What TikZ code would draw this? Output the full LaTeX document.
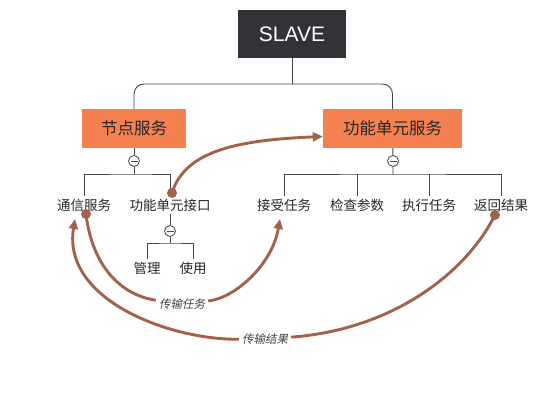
\documentclass[tikz,border=0pt]{standalone}
\usepackage{fontspec}
\setmainfont{Noto Sans CJK SC}
\newfontfamily\slantcjk[FakeSlant=0.2]{Noto Sans CJK SC}
\newfontfamily\latinsans{Liberation Sans}
\usepackage{xcolor}
\usepackage{tikz}
\usetikzlibrary{arrows.meta,positioning}
\definecolor{boxorange}{HTML}{F58150}
\definecolor{boxdark}{HTML}{333337}
\definecolor{linkbrown}{HTML}{A2614D}
\definecolor{treegray}{HTML}{444444}

\begin{document}
\begin{tikzpicture}[x=1pt,y=-1pt,
  topic/.style={fill=boxorange,text=black!85,font=\fontsize{16.5}{18}\selectfont,minimum height=39pt,inner sep=0pt},
  leaf/.style={font=\fontsize{13.5}{15}\selectfont,text=black!85,inner sep=3pt},
  fold/.style={circle,draw=treegray,fill=white,line width=0.8pt,minimum size=11pt,inner sep=0pt},
  tree/.style={draw=treegray,line width=0.9pt},
  link/.style={draw=linkbrown,line width=2.9pt,-{Triangle[length=10pt,width=9pt]}},
  linklabel/.style={font=\slantcjk\fontsize{11.5}{13}\selectfont,text=black!75,inner sep=3pt}]
  \useasboundingbox (0,0) rectangle (544,403);
  % main topics
  \node[fill=boxdark,text=white,font=\latinsans\fontsize{21}{24}\selectfont,minimum width=108pt,minimum height=48pt,inner sep=0pt] (slave) at (292,34) {SLAVE};
  \node[topic,minimum width=104pt] (jdfw) at (134,128.5) {节点服务};
  \node[topic,minimum width=139pt] (gnfw) at (392.5,128.5) {功能单元服务};
  \coordinate (hub) at (292,84);
  \draw[tree] (slave) -- (hub);
  \draw[tree,rounded corners=10pt] (jdfw.north) |- (hub) -| (gnfw.north);
  % node service branch
  \node[fold] (f1) at (134,161) {};
  \coordinate (b1) at (134,174);
  \node[leaf] (txfw) at (84,205) {通信服务};
  \node[leaf] (gnjk) at (170,205) {功能单元接口};
  \draw[tree] (jdfw) -- (f1) -- (b1);
  \draw[tree] (txfw.north) |- (b1) -| (gnjk.north);
  \node[fold] (f3) at (170,231) {};
  \coordinate (b3) at (170,243);
  \node[leaf] (gl) at (147,268) {管理};
  \node[leaf] (sy) at (193,268) {使用};
  \draw[tree] (gnjk) -- (f3) -- (b3);
  \draw[tree] (gl.north) |- (b3) -| (sy.north);
  % function unit service branch
  \node[fold] (f2) at (393,161) {};
  \coordinate (b2) at (393,174);
  \node[leaf] (jsrw) at (284,205) {接受任务};
  \node[leaf] (jccs) at (357,205) {检查参数};
  \node[leaf] (zxrw) at (429,205) {执行任务};
  \node[leaf] (fhjg) at (501,205) {返回结果};
  \draw[tree] (gnfw) -- (f2) -- (b2);
  \draw[tree] (jsrw.north) |- (b2) -| (fhjg.north);
  \draw[tree] (jccs.north) -- (jccs.north |- b2);
  \draw[tree] (zxrw.north) -- (zxrw.north |- b2);
  \foreach \f in {f1,f2,f3}
    \draw[tree,line width=0.8pt] ([xshift=-3.5pt]\f.center) -- ([xshift=3.5pt]\f.center);
  % links
  \coordinate (d1) at (172,193);
  \coordinate (d2) at (86,214);
  \coordinate (d3) at (495,215);
  \coordinate (t2) at (280,219);
  \coordinate (t3) at (75,219);
  \node[linklabel] (lrw) at (182,304) {传输任务};
  \node[linklabel] (ljg) at (265,339) {传输结果};
  \draw[link] (d1) .. controls (185,150) and (240,140) .. ([yshift=-8pt]gnfw.west);
  \draw[link] (d2) .. controls (92,265) and (120,295) .. (lrw)
    .. controls (235,298) and (272,265) .. (t2);
  \draw[link] (d3) .. controls (465,275) and (390,330) .. (ljg)
    .. controls (170,340) and (62,300) .. (t3);
  \foreach \d in {d1,d2,d3}
    \fill[linkbrown] (\d) circle (5pt);
\end{tikzpicture}
\end{document}
